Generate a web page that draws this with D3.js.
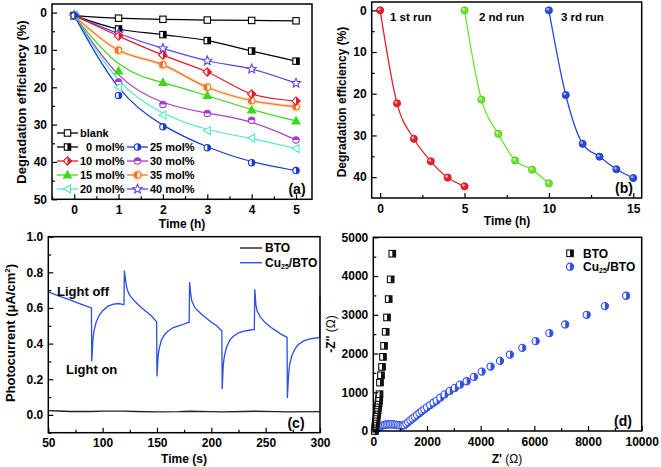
<!DOCTYPE html>
<html><head><meta charset="utf-8">
<script src="https://cdn.jsdelivr.net/npm/d3@7"></script>
<style>
body{margin:0;background:#fff;}
svg{display:block;font-family:Arial,"Liberation Sans",sans-serif;font-weight:bold;}
</style></head><body>
<svg id="c" width="661" height="467"></svg>
<script>
// ---------- DATA ----------
// Panel (a)
const timesA = [0,1,2,3,4,5];
const blank = [0.8,1.5,1.8,2.0,2.1,2.2];
const mol0  = [0.8,4.4,5.9,7.5,10.3,13.0];
const mol10 = [0.8,6.3,11.4,15.9,21.8,23.7];
const mol15 = [0.8,15.6,18.7,22.2,26.1,29.0];
const mol20 = [0.8,20.0,27.4,31.6,33.6,36.4];
const mol25 = [0.8,22.2,30.6,36.2,40.2,42.3];
const mol30 = [0.8,18.6,24.6,27.0,28.8,34.1];
const mol35 = [0.8,10.1,14.0,20.0,23.6,25.2];
const mol40 = [0.8,5.6,9.6,12.9,15.1,18.9];
const seriesNamesA = ["blank","0 mol%","10 mol%","15 mol%","20 mol%","25 mol%","30 mol%","35 mol%","40 mol%"];
const ticksAx = [0,1,2,3,4,5];
const ticksAy = [0,10,20,30,40,50];

// Panel (b)
const run1T = [0,1,2,3,4,5];
const run1  = [0,22.3,30.8,36.2,40.1,42.2];
const run2T = [5,6,7,8,9,10];
const run2  = [0,21.4,29.6,36.0,38.2,41.5];
const run3T = [10,11,12,13,14,15];
const run3  = [0,20.3,32.0,35.1,38.1,40.2];
const runNames = ["1 st run","2 nd run","3 rd run"];
const ticksBx = [0,5,10,15];
const ticksBy = [0,10,20,30,40];

// Panel (c)
const photoT  = [50,60,70,80,89.7,90,91,92,94,97,100,105,110,115,119.6,
                 120,121,122,124,127,130,135,140,145,149.7,
                 150,151,152,154,157,160,165,170,175,179.6,
                 180,181,182,185,190,195,200,205,209.7,
                 210,211,212,214,217,220,225,230,235,239.6,
                 240,241,242,245,250,255,260,265,269.7,
                 270,271,272,274,277,280,285,290,295,299.7,300];
const photoCu = [0.69,0.667,0.645,0.622,0.60,0.30,0.42,0.47,0.52,0.56,0.585,0.61,0.622,0.625,0.618,
                 0.81,0.76,0.72,0.68,0.655,0.635,0.605,0.58,0.555,0.522,
                 0.215,0.33,0.37,0.42,0.45,0.47,0.49,0.50,0.51,0.52,
                 0.745,0.68,0.64,0.60,0.57,0.545,0.52,0.50,0.47,
                 0.145,0.28,0.33,0.38,0.42,0.44,0.46,0.47,0.475,0.48,
                 0.705,0.62,0.585,0.55,0.515,0.49,0.47,0.45,0.435,
                 0.095,0.22,0.28,0.33,0.37,0.395,0.415,0.425,0.43,0.435,0.67];
const btoT = [50,60,70,90,100,120,130,150,170,180,200,210,230,240,260,270,300];
const btoI = [0.024,0.022,0.019,0.019,0.021,0.021,0.019,0.017,0.018,0.02,0.018,0.017,0.019,0.02,0.018,0.017,0.018];
const ticksCx = [50,100,150,200,250,300];
const ticksCy = [0.0,0.2,0.4,0.6,0.8,1.0];

// Panel (d)
const btoZr = [60,70,80,90,100,112,124,136,148,160,172,184,196,208,220,232,249,287,324,361,399,462,510,574,648,708];
const btoZi = [0,60,120,180,240,300,360,420,480,540,600,660,720,780,850,950,1250,1440,1655,1913,2198,2560,2932,3405,3914,4576];
const cuZr = [60,100,150,200,260,320,380,440,500,560,620,680,740,800,860,920,980,1040,1100,1160,
              1230,1300,1380,1460,1540,1630,1720,1810,1900,2000,2120,2240,2360,2500,2660,2850,3040,3230,
              3480,3750,4040,4370,4720,5090,5550,6050,6560,7150,7950,8630,9420];
const cuZi = [0,40,75,100,122,140,153,162,168,172,173,172,170,166,160,152,145,140,140,150,
              190,230,275,320,365,415,465,515,560,610,670,730,785,860,945,1035,1112,1198,
              1284,1397,1534,1664,1810,1974,2147,2319,2526,2750,3000,3224,3491];
const ticksDx = [0,2000,4000,6000,8000,10000];
const ticksDy = [0,1000,2000,3000,4000,5000];

// ---------- HELPERS ----------
const svg = d3.select("#c");
svg.append("rect").attr("width",661).attr("height",467).attr("fill","#fff");

function axes(g, x, y, xt, yt, xminor, yminor, xfmt, yfmt){
  const [x0,x1] = x.range();
  const yb = Math.max(...y.range()), ytp = Math.min(...y.range());
  g.append("g").attr("transform",`translate(0,${yb})`)
    .call(d3.axisBottom(x).tickValues(xminor).tickSize(-3).tickSizeOuter(0).tickFormat(""))
    .call(s=>s.select(".domain").remove());
  g.append("g").attr("transform",`translate(${x0},0)`)
    .call(d3.axisLeft(y).tickValues(yminor).tickSize(-3).tickSizeOuter(0).tickFormat(""))
    .call(s=>s.select(".domain").remove());
  const ax = g.append("g").attr("transform",`translate(0,${yb})`)
    .call(d3.axisBottom(x).tickValues(xt).tickSize(-5).tickSizeOuter(0).tickPadding(6).tickFormat(xfmt));
  ax.select(".domain").remove();
  const ay = g.append("g").attr("transform",`translate(${x0},0)`)
    .call(d3.axisLeft(y).tickValues(yt).tickSize(-5).tickSizeOuter(0).tickPadding(5).tickFormat(yfmt));
  ay.select(".domain").remove();
  g.selectAll(".tick line").attr("stroke","#000").attr("stroke-width",1.2);
  g.selectAll(".tick text").attr("font-size",12).attr("font-weight","bold")
    .attr("font-family","Arial,'Liberation Sans',sans-serif").attr("fill","#000");
  g.append("rect").attr("x",x0).attr("y",ytp).attr("width",x1-x0).attr("height",yb-ytp)
    .attr("fill","none").attr("stroke","#000").attr("stroke-width",1.5);
}

function starPath(r){
  let p=[];
  for(let i=0;i<10;i++){
    const a = -Math.PI/2 + i*Math.PI/5;
    const rr = i%2===0 ? r : r*0.45;
    p.push([rr*Math.cos(a), rr*Math.sin(a)]);
  }
  return "M"+p.map(d=>d.join(",")).join("L")+"Z";
}

function marker(g, type, color, cx, cy, r){
  const m = g.append("g").attr("transform",`translate(${cx},${cy})`);
  const sw = 1.1;
  if(type==="sq-open"){
    m.append("rect").attr("x",-r).attr("y",-r).attr("width",2*r).attr("height",2*r).attr("fill","#fff").attr("stroke",color).attr("stroke-width",sw);
  } else if(type==="sq-right"){
    m.append("rect").attr("x",-r).attr("y",-r).attr("width",2*r).attr("height",2*r).attr("fill","#fff");
    m.append("rect").attr("x",0).attr("y",-r).attr("width",r).attr("height",2*r).attr("fill",color);
    m.append("rect").attr("x",-r).attr("y",-r).attr("width",2*r).attr("height",2*r).attr("fill","none").attr("stroke",color).attr("stroke-width",sw);
  } else if(type==="dia-right"){
    const R=r*1.3;
    m.append("path").attr("d",`M0,${-R}L${R},0L0,${R}L${-R},0Z`).attr("fill","#fff");
    m.append("path").attr("d",`M0,${-R}L${R},0L0,${R}Z`).attr("fill",color);
    m.append("path").attr("d",`M0,${-R}L${R},0L0,${R}L${-R},0Z`).attr("fill","none").attr("stroke",color).attr("stroke-width",sw);
  } else if(type==="tri-up"){
    const R=r*1.25;
    m.append("path").attr("d",`M0,${-R}L${R},${R*0.75}L${-R},${R*0.75}Z`).attr("fill",color).attr("stroke",color).attr("stroke-width",sw);
  } else if(type==="tri-left"){
    const R=r*1.25;
    m.append("path").attr("d",`M${-R},0L${R*0.75},${-R}L${R*0.75},${R}Z`).attr("fill","#fff").attr("stroke",color).attr("stroke-width",sw);
  } else if(type==="circ-right" || type==="circ-left" || type==="circ-top"){
    m.append("circle").attr("r",r).attr("fill","#fff");
    let d;
    if(type==="circ-right") d=`M0,${-r}A${r},${r} 0 0 1 0,${r}Z`;
    if(type==="circ-left") d=`M0,${-r}A${r},${r} 0 0 0 0,${r}Z`;
    if(type==="circ-top") d=`M${-r},0A${r},${r} 0 0 1 ${r},0Z`;
    m.append("path").attr("d",d).attr("fill",color);
    m.append("circle").attr("r",r).attr("fill","none").attr("stroke",color).attr("stroke-width",sw);
  } else if(type==="star"){
    m.append("path").attr("d",starPath(r*1.5)).attr("fill","#fff").attr("stroke",color).attr("stroke-width",sw);
  } else if(type==="ball"){
    m.append("circle").attr("r",r).attr("fill",color).attr("stroke",d3.color(color).darker(0.6)).attr("stroke-width",0.8);
    m.append("circle").attr("r",r*0.4).attr("cx",-r*0.3).attr("cy",-r*0.3).attr("fill","#fff").attr("opacity",0.55);
  }
}

// ---------- PANEL (a) ----------
{
  const g = svg.append("g");
  const x = d3.scaleLinear().domain([-0.5,5.36]).range([52,312]);
  const y = d3.scaleLinear().domain([-2.3,50]).range([4,199.3]);
  const valsA = [blank,mol0,mol10,mol15,mol20,mol25,mol30,mol35,mol40];
  const colorsA = ["#000","#000","#e8192c","#3ad81a","#50e8c4","#1a3ccc","#a83cc8","#e8733c","#6040ee"];
  const markA = ["sq-open","sq-right","dia-right","tri-up","tri-left","circ-right","circ-top","circ-left","star"];
  const smooth = [false,false,false,true,true,true,true,false,false];
  const order = [0,1,8,7,2,3,6,4,5];
  const lineC = d3.line().x((d,i)=>x(timesA[i])).y(d=>y(d)).curve(d3.curveCatmullRom.alpha(0.5));
  const lineB = d3.line().x((d,i)=>x(timesA[i])).y(d=>y(d)).curve(d3.curveBasis);
  g.append("path").attr("d",lineC(mol35)).attr("fill","none").attr("stroke","#fce3b4").attr("stroke-width",4).attr("opacity",0.7);
  mol35.forEach((v,i)=>{ if(i>0) g.append("circle").attr("cx",x(timesA[i])).attr("cy",y(v)).attr("r",6).attr("fill","#fde6b0").attr("opacity",0.8); });
  order.forEach(k=>{
    g.append("path").attr("d",(smooth[k]?lineB:lineC)(valsA[k])).attr("fill","none")
      .attr("stroke",colorsA[k]).attr("stroke-width",1.2);
  });
  order.forEach(k=>{
    valsA[k].forEach((v,i)=>marker(g,markA[k],colorsA[k],x(timesA[i]),y(v),3.2));
  });
  axes(g,x,y,ticksAx,ticksAy,[-0.5,0.5,1.5,2.5,3.5,4.5],[5,15,25,35,45],d3.format("d"),d3.format("d"));
  // legend
  const legY = [133,147,161,175,189];
  for(let k=0;k<9;k++){
    const col = k<5?0:1, row = k<5?k:k-4;
    const ly = legY[row];
    const lx0 = col===0?57:127, lx1 = col===0?78:148;
    if(k===7){ g.append("circle").attr("cx",(lx0+lx1)/2).attr("cy",ly).attr("r",6).attr("fill","#fde6b0"); }
    g.append("line").attr("x1",lx0).attr("x2",lx1).attr("y1",ly).attr("y2",ly).attr("stroke",colorsA[k]).attr("stroke-width",1.3);
    marker(g,markA[k],colorsA[k],(lx0+lx1)/2,ly,3.2);
    g.append("text").attr("x",col===0?(k===1?86:80):150).attr("y",ly).attr("dy","0.36em")
      .attr("font-size",11).text(seriesNamesA[k]);
  }
  g.append("text").attr("x",297).attr("y",189).attr("dy","0.36em").attr("text-anchor","middle").attr("font-size",14).text("(a)");
  g.append("text").attr("x",182).attr("y",224).attr("dy","0.36em").attr("text-anchor","middle").attr("font-size",12).text("Time (h)");
  g.append("text").attr("transform","translate(21,102) rotate(-90)").attr("dy","0.36em").attr("text-anchor","middle").attr("font-size",13).text("Degradation efficiency (%)");
}

// ---------- PANEL (b) ----------
{
  const g = svg.append("g");
  const x = d3.scaleLinear().domain([-0.5,15.5]).range([371.7,641.7]);
  const y = d3.scaleLinear().domain([-2,45]).range([2,198]);
  const runsT = [run1T,run2T,run3T], runsV=[run1,run2,run3];
  const colorsB = ["#e8202e","#6ae82a","#2a48e0"];
  const line = d3.line().curve(d3.curveMonotoneX);
  runsV.forEach((v,k)=>{
    g.append("path").attr("d",line(v.map((d,i)=>[x(runsT[k][i]),y(d)]))).attr("fill","none").attr("stroke",colorsB[k]).attr("stroke-width",1.3);
  });
  runsV.forEach((v,k)=>v.forEach((d,i)=>marker(g,"ball",colorsB[k],x(runsT[k][i]),y(d),3.6)));
  axes(g,x,y,ticksBx,ticksBy,[2.5,7.5,12.5],[5,15,25,35],d3.format("d"),d3.format("d"));
  const lblX = [390,479,561];
  runNames.forEach((t,k)=>g.append("text").attr("x",lblX[k]).attr("y",17).attr("dy","0.36em").attr("font-size",11.5).text(t));
  g.append("text").attr("x",624).attr("y",188).attr("dy","0.36em").attr("text-anchor","middle").attr("font-size",14).text("(b)");
  g.append("text").attr("x",507).attr("y",221).attr("dy","0.36em").attr("text-anchor","middle").attr("font-size",12).text("Time (h)");
  g.append("text").attr("transform","translate(342,102) rotate(-90)").attr("dy","0.36em").attr("text-anchor","middle").attr("font-size",12).text("Degradation efficiency (%)");
}

// ---------- PANEL (c) ----------
{
  const g = svg.append("g");
  const x = d3.scaleLinear().domain([50,300]).range([48.3,320]);
  const y = d3.scaleLinear().domain([-0.1,1.0]).range([432.7,236.7]);
  const line = d3.line();
  g.append("path").attr("d",line(btoT.map((t,i)=>[x(t),y(btoI[i])]))).attr("fill","none").attr("stroke","#222").attr("stroke-width",1.4);
  g.append("path").attr("d",line(photoT.map((t,i)=>[x(t),y(photoCu[i])]))).attr("fill","none").attr("stroke","#2a4ee6").attr("stroke-width",1.3);
  axes(g,x,y,ticksCx,ticksCy,[75,125,175,225,275],[-0.1,0.1,0.3,0.5,0.7,0.9],d3.format("d"),d3.format(".1f"));
  g.append("line").attr("x1",240).attr("x2",262).attr("y1",248).attr("y2",248).attr("stroke","#222").attr("stroke-width",1.4);
  g.append("text").attr("x",265).attr("y",248).attr("dy","0.36em").attr("font-size",12).text("BTO");
  g.append("line").attr("x1",240).attr("x2",262).attr("y1",262.7).attr("y2",262.7).attr("stroke","#2a4ee6").attr("stroke-width",1.4);
  const t = g.append("text").attr("x",265).attr("y",262.7).attr("dy","0.36em").attr("font-size",12);
  t.append("tspan").text("Cu");
  t.append("tspan").attr("font-size",7).attr("dy",2).text("25");
  t.append("tspan").attr("dy",-2).text("/BTO");
  g.append("text").attr("x",57).attr("y",291).attr("dy","0.36em").attr("font-size",13).text("Light off");
  g.append("text").attr("x",66).attr("y",369).attr("dy","0.36em").attr("font-size",13).text("Light on");
  g.append("text").attr("x",296).attr("y",423).attr("dy","0.36em").attr("text-anchor","middle").attr("font-size",14).text("(c)");
  g.append("text").attr("x",184).attr("y",459).attr("dy","0.36em").attr("text-anchor","middle").attr("font-size",12).text("Time (s)");
  const yt = g.append("text").attr("transform","translate(10,333) rotate(-90)").attr("dy","0.36em").attr("text-anchor","middle").attr("font-size",13);
  yt.append("tspan").text("Photocurrent (\u03bcA/cm");
  yt.append("tspan").attr("font-size",8).attr("dy",-5).text("2");
  yt.append("tspan").attr("dy",5).text(")");
}

// ---------- PANEL (d) ----------
{
  const g = svg.append("g");
  const x = d3.scaleLinear().domain([0,10000]).range([373.3,641.7]);
  const y = d3.scaleLinear().domain([0,5000]).range([431,237.3]);
  cuZr.forEach((v,i)=>marker(g,"circ-right","#3350ee",x(v),y(cuZi[i]),3.6));
  btoZr.forEach((v,i)=>marker(g,"sq-right","#111",x(v),y(btoZi[i]),3.3));
  axes(g,x,y,ticksDx,ticksDy,[1000,3000,5000,7000,9000],[500,1500,2500,3500,4500],d3.format("d"),d3.format("d"));
  marker(g,"sq-right","#111",570,253.3,3.3);
  g.append("text").attr("x",583).attr("y",253.3).attr("dy","0.36em").attr("font-size",12).text("BTO");
  marker(g,"circ-right","#3350ee",570,266.7,3.6);
  const t = g.append("text").attr("x",583).attr("y",266.7).attr("dy","0.36em").attr("font-size",12);
  t.append("tspan").text("Cu");
  t.append("tspan").attr("font-size",7).attr("dy",2).text("25");
  t.append("tspan").attr("dy",-2).text("/BTO");
  g.append("text").attr("x",623).attr("y",421).attr("dy","0.36em").attr("text-anchor","middle").attr("font-size",14).text("(d)");
  const xt = g.append("text").attr("x",507).attr("y",459).attr("dy","0.36em").attr("text-anchor","middle").attr("font-size",12);
  xt.append("tspan").text("Z' ");
  xt.append("tspan").attr("font-weight","normal").text("(\u03a9)");
  const yt = g.append("text").attr("transform","translate(331,334) rotate(-90)").attr("dy","0.36em").attr("text-anchor","middle").attr("font-size",12);
  yt.append("tspan").text("-Z'' ");
  yt.append("tspan").attr("font-weight","normal").text("(\u03a9)");
}
</script>
</body></html>
